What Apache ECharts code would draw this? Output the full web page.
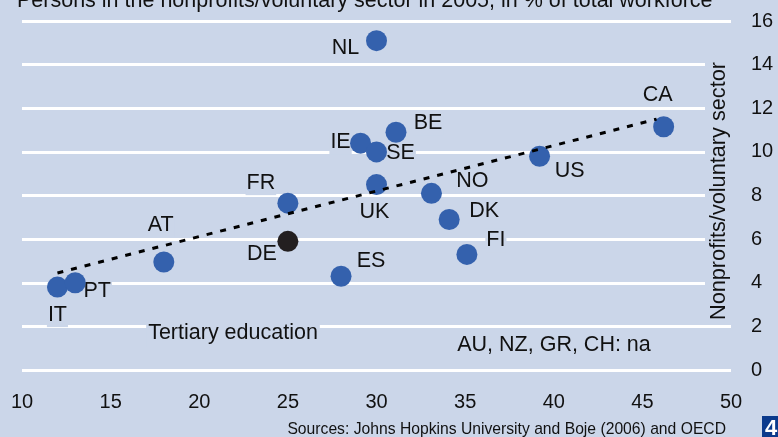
<!DOCTYPE html>
<html>
<head>
    <meta charset="utf-8">
    <title>Nonprofits/voluntary sector and tertiary education</title>
    <script src="https://cdn.jsdelivr.net/npm/echarts@6/dist/echarts.min.js"></script>
    <style>
        html, body {margin:0;padding:0;background:#cbd6e9;overflow:hidden;}
        #chart {width:778px;height:437px;}
    </style>
</head>
<body>
<div id="chart"></div>
<script>
    // values
    const countries = ['IT', 'PT', 'AT', 'FR', 'DE', 'ES', 'IE', 'BE', 'SE', 'UK', 'NL', 'NO', 'DK', 'FI', 'US', 'CA'];
    const tertiary  = [12, 13, 18, 25, 25, 28, 29.1, 31.1, 30, 30, 30, 33.1, 34.1, 35.1, 39.2, 46.2];
    const nonprofit = [3.8, 4.0, 4.95, 7.65, 5.9, 4.3, 10.4, 10.9, 10.0, 8.5, 15.1, 8.1, 6.9, 5.3, 9.8, 11.15];
    const trendX = [12, 45.8];
    const trendY = [4.45, 11.5];
    const xTicks = [10, 15, 20, 25, 30, 35, 40, 45, 50];
    const yTicks = [0, 2, 4, 6, 8, 10, 12, 14, 16];

    const bg = '#cbd6e9';
    const blue = '#3461ad';
    const dark = '#231f20';
    const ink = '#111111';
    const font = "'Liberation Sans', Arial, sans-serif";

    // where each country label sits relative to its dot (px)
    const labelOffset = {
        IT: [0, 28], PT: [22, 8], AT: [-3, -37], FR: [-27, -20], DE: [-26, 13], ES: [30, -15],
        IE: [-20, -1], BE: [32, -9], SE: [24, 1], UK: [-2, 27], NL: [-31, 7], NO: [41, -12],
        DK: [35, -8], FI: [29, -14], US: [30, 15], CA: [-6, -32]
    };

    const points = countries.map(function (c, i) {
        return {name: c, value: [tertiary[i], nonprofit[i]]};
    });
    const labels = countries.map(function (c, i) {
        return {name: c, value: [tertiary[i], nonprofit[i]], label: {offset: labelOffset[c]}};
    });
    const trend = trendX.map(function (x, i) { return [x, trendY[i]]; });

    const chart = echarts.init(document.getElementById('chart'), null, {renderer: 'canvas'});
    chart.setOption({
        animation: false,
        backgroundColor: bg,
        textStyle: {fontFamily: font},
        grid: {left: 22, right: 47, top: 21, bottom: 67},
        xAxis: {
            type: 'value',
            min: xTicks[0], max: xTicks[xTicks.length - 1], interval: xTicks[1] - xTicks[0],
            axisLine: {show: false}, axisTick: {show: false}, splitLine: {show: false},
            axisLabel: {fontSize: 20, color: ink, margin: 22, fontFamily: font}
        },
        yAxis: {
            type: 'value', position: 'right',
            min: yTicks[0], max: yTicks[yTicks.length - 1], interval: yTicks[1] - yTicks[0],
            axisLine: {show: false}, axisTick: {show: false},
            splitLine: {show: true, lineStyle: {color: '#ffffff', width: 3}},
            axisLabel: {fontSize: 20, color: ink, margin: 20, fontFamily: font}
        },
        series: [
            {
                // country names, their boxes hide the grid lines behind them
                type: 'scatter', z: 2, symbolSize: 1, data: labels, silent: true,
                itemStyle: {color: 'rgba(0,0,0,0)', opacity: 1},
                label: {
                    show: true, position: 'inside', formatter: '{b}', opacity: 1,
                    fontSize: 21.5, color: ink, fontFamily: font,
                    backgroundColor: bg, padding: [1, 1]
                }
            },
            {
                type: 'scatter', z: 3, symbolSize: 21, data: points,
                itemStyle: {opacity: 1, color: function (p) { return p.name === 'DE' ? dark : blue; }}
            },
            {
                type: 'line', z: 4, symbol: 'none', data: trend, silent: true,
                lineStyle: {color: '#000', width: 3, type: [6, 8]}
            }
        ],
        graphic: [
            {type: 'text', x: 17, y: 1, z: 100, silent: true, style: {
                text: 'Persons in the nonprofits/voluntary sector in 2005, in % of total workforce',
                font: '21.5px ' + font, fill: ink, verticalAlign: 'middle'}},
            {type: 'text', x: 233, y: 333, z: 100, silent: true, style: {
                text: 'Tertiary education', font: '21.5px ' + font, fill: ink,
                align: 'center', verticalAlign: 'middle', backgroundColor: bg, padding: [3, 2]}},
            {type: 'text', x: 554, y: 345, z: 100, silent: true, style: {
                text: 'AU, NZ, GR, CH: na', font: '21.5px ' + font, fill: ink,
                align: 'center', verticalAlign: 'middle'}},
            {type: 'text', x: 719, y: 191, z: 100, rotation: Math.PI / 2, silent: true, style: {
                text: 'Nonprofits/voluntary sector', font: '21.7px ' + font, fill: ink,
                align: 'center', verticalAlign: 'middle', backgroundColor: bg, padding: [3, 2]}},
            {type: 'text', x: 726, y: 430, z: 100, silent: true, style: {
                text: 'Sources: Johns Hopkins University and Boje (2006) and OECD',
                font: '15.7px ' + font, fill: ink, align: 'right', verticalAlign: 'middle'}},
            {type: 'rect', x: 762, y: 416, z: 100, silent: true, shape: {width: 30, height: 30}, style: {fill: '#0b3a8c'}},
            {type: 'text', x: 765, y: 429, z: 101, silent: true, style: {
                text: '4', font: 'bold 22px ' + font, fill: '#fff', verticalAlign: 'middle'}}
        ]
    });
</script>
</body>
</html>
